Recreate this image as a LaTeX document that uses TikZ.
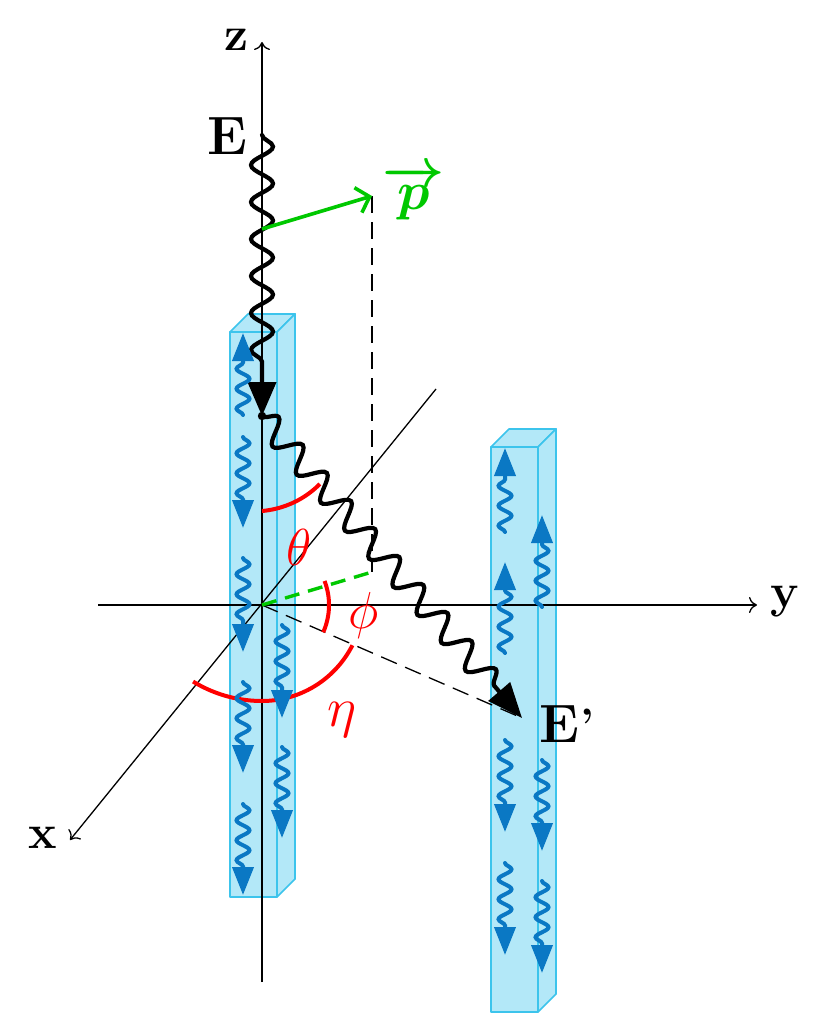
\RequirePackage{fix-cm}
\documentclass[tikz,border=0pt]{standalone}
\usetikzlibrary{arrows.meta,decorations.pathmorphing}
\definecolor{boxfill}{HTML}{B3E8F8}
\definecolor{boxline}{HTML}{3CC4EC}
\definecolor{wblue}{HTML}{0A78C4}
\definecolor{pgreen}{HTML}{00C800}
\tikzset{
  axisline/.style={line width=1.3pt,-{Computer Modern Rightarrow[length=8pt,width=16pt]}},
  slab/.style={fill=boxfill,draw=boxline,line width=1.7pt,line join=round},
  thindash/.style={line width=1.3pt,dash pattern=on 17pt off 9pt},
  blackwave/.style 2 args={line width=4.2pt,line cap=round,decorate,decoration={snake,amplitude=#2,segment length=37pt,post length=#1}},
  bluewave/.style={draw=wblue,line width=4pt,line cap=round,decorate,decoration={snake,amplitude=6.5pt,segment length=20pt,post length=28pt},-{Triangle[length=28pt,width=21pt,color=wblue]}},
  redarc/.style={red,line width=4pt},
  lab/.style={inner sep=0pt,font=\fontsize{48}{52}\selectfont\bfseries},
  biglab/.style={inner sep=0pt,font=\fontsize{54}{60}\selectfont\bfseries},
  redlab/.style={inner sep=0pt,red,font=\fontsize{52}{56}\selectfont},
}
\begin{document}
\begin{tikzpicture}[x=1pt,y=-1pt]
\useasboundingbox (0,0) rectangle (829,1030);
\fill[white] (0,0) rectangle (829,1030);
% slabs
\foreach \l/\t in {230/332,491/447}{
  \pgfmathsetmacro{\r}{\l+47}
  \pgfmathsetmacro{\b}{\t+565}
  \draw[slab] (\l,\t) rectangle (\r,\b);
  \draw[slab] (\l,\t) -- ++(18,-18) -- ++(47,0) -- (\r,\t) -- cycle;
  \draw[slab] (\r,\t) -- ++(18,-18) -- ++(0,565) -- (\r,\b) -- cycle;
}
% axes
\coordinate (O) at (262,605);
\coordinate (zb) at (262,982);
\coordinate (zt) at (262,42);
\coordinate (yl) at (98,605);
\coordinate (yr) at (757,605);
\coordinate (xb) at (436,389);
\coordinate (xf) at (70,840);
\draw[axisline] (zb) -- (zt);
\draw[axisline] (yl) -- (yr);
\draw[axisline] (xb) -- (xf);
% projections
\coordinate (P) at (372,196);
\coordinate (Pf) at (372,572);
\coordinate (Eout) at (522,718);
\coordinate (Pstart) at (262,229);
\draw[thindash] (P) -- (Pf);
\draw[thindash] (O) -- (Eout);
\draw[line width=3.4pt,dash pattern=on 15pt off 9pt,draw=pgreen] (O) -- (Pf);
% angles
\draw[redarc] plot[domain=90:50,samples=30,smooth] ({262+(96-6*(90-\x)/40)*cos(\x)},{415+(96-6*(90-\x)/40)*sin(\x)});
\draw[redarc] plot[domain=-21:24,samples=30,smooth] ({262+67*cos(\x)},{605+67*sin(\x)});
\draw[redarc] plot[domain=132:24,samples=50,smooth] ({262+(\x>90?96+7*((\x-90)/42)^2:96+3*((90-\x)/66)^2)*cos(\x)},{605+(\x>90?96+7*((\x-90)/42)^2:96+3*((90-\x)/66)^2)*sin(\x)});
% photons
\coordinate (Ein) at (262,135);
\coordinate (S) at (262,416);
\draw[blackwave={52pt}{11pt},-{Triangle[length=34pt,width=28pt]}] (Ein) -- (S);
\draw[pgreen,line width=3.6pt,-{Straight Barb[length=12pt,width=26pt,line width=3.6pt]}] (Pstart) -- (P);
\draw[blackwave={42pt}{12pt},-{Triangle[length=35pt,width=28pt]}] (S) -- (Eout);
\fill (S) circle (4.2pt);
% wavelets
\foreach \n/\x/\a/\b in {
  a/243/415/333, b/243/437/528, c/243/558/652, d/243/682/773, e/243/804/895,
  f/282/625/718, g/282/747/838,
  h/505/532/448, i/505/653/562, j/505/740/832, k/505/863/955,
  l/542/607/515, m/542/760/851, n/542/881/973}{
  \coordinate (w\n a) at (\x,\a);
  \coordinate (w\n b) at (\x,\b);
  \draw[bluewave] (w\n a) -- (w\n b);
}
% labels
\node[lab] (zl) at (236,40) {z};
\node[lab] (yla) at (785,602) {y};
\node[lab] (xla) at (43,838) {x};
\node[biglab] (El) at (227,136) {E};
\node[biglab,anchor=west] (Epl) at (539,724) {E\hspace{1pt}\raisebox{3pt}{\fontsize{44}{48}\selectfont'}};
\node[inner sep=0pt,text=pgreen] (pl) at (414,193) {{\fontsize{54}{58}\selectfont\boldmath$\overrightarrow{p}$}};
\node[redlab] (tl) at (299,547) {$\theta$};
\node[redlab] (fl) at (364,615) {$\phi$};
\node[redlab,font=\fontsize{56}{60}\selectfont] (el) at (342,720) {$\eta$};
\end{tikzpicture}
\end{document}
